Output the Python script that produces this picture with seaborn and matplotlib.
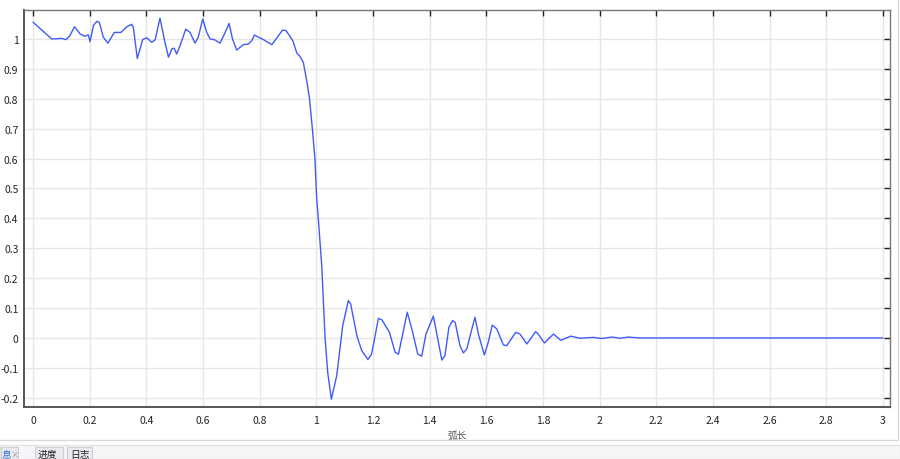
import matplotlib
matplotlib.use("Agg")
import matplotlib.pyplot as plt
import seaborn as sns
import pandas as pd
from matplotlib.lines import Line2D
from matplotlib.patches import Rectangle

# arc length and value
arc_length = [0.0, 0.066, 0.10, 0.116, 0.13, 0.146, 0.166, 0.183, 0.195, 0.201,
              0.213, 0.225, 0.234, 0.248, 0.264, 0.287, 0.31, 0.331, 0.348, 0.354,
              0.368, 0.387, 0.401, 0.419, 0.431, 0.448, 0.463, 0.478, 0.49, 0.498,
              0.507, 0.519, 0.539, 0.554, 0.572, 0.583, 0.599, 0.613, 0.625, 0.642,
              0.66, 0.678, 0.692, 0.704, 0.719, 0.742, 0.76, 0.772, 0.781, 0.813,
              0.843, 0.881, 0.893, 0.917, 0.931, 0.942, 0.954, 0.966, 0.976, 0.986,
              0.995, 1.001, 1.007, 1.019, 1.031, 1.040, 1.053, 1.072, 1.093, 1.113,
              1.121, 1.143, 1.16, 1.182, 1.195, 1.219, 1.231, 1.258, 1.278, 1.29,
              1.321, 1.337, 1.358, 1.372, 1.387, 1.413, 1.443, 1.454, 1.468, 1.481,
              1.49, 1.507, 1.519, 1.531, 1.549, 1.56, 1.572, 1.593, 1.607, 1.621,
              1.637, 1.66, 1.672, 1.704, 1.719, 1.743, 1.774, 1.783, 1.805, 1.837,
              1.863, 1.898, 1.931, 1.978, 2.007, 2.043, 2.072, 2.101, 2.14, 3.0]
value = [1.056, 1.0, 1.002, 0.998, 1.011, 1.041, 1.017, 1.009, 1.014, 0.991,
         1.045, 1.059, 1.056, 1.006, 0.986, 1.022, 1.022, 1.041, 1.049, 1.039,
         0.935, 0.998, 1.004, 0.989, 0.997, 1.07, 1.0, 0.939, 0.967, 0.969,
         0.95, 0.978, 1.033, 1.022, 0.986, 1.006, 1.067, 1.022, 1.0, 0.997,
         0.986, 1.022, 1.052, 1.0, 0.963, 0.981, 0.983, 0.994, 1.013, 0.998,
         0.981, 1.03, 1.028, 0.994, 0.953, 0.942, 0.922, 0.86, 0.799, 0.699,
         0.599, 0.47, 0.398, 0.242, -0.003, -0.115, -0.205, -0.126, 0.041, 0.125,
         0.114, 0.008, -0.042, -0.072, -0.054, 0.065, 0.061, 0.019, -0.048, -0.054,
         0.086, 0.030, -0.054, -0.061, 0.013, 0.073, -0.074, -0.059, 0.036, 0.058,
         0.052, -0.026, -0.05, -0.037, 0.03, 0.069, 0.013, -0.057, -0.014, 0.043,
         0.03, -0.023, -0.026, 0.019, 0.013, -0.02, 0.021, 0.013, -0.017, 0.013,
         -0.008, 0.006, -0.001, 0.002, -0.002, 0.003, -0.001, 0.003, 0.0, 0.0]

x_ticks = [0, 0.2, 0.4, 0.6, 0.8, 1, 1.2, 1.4, 1.6, 1.8, 2, 2.2, 2.4, 2.6, 2.8, 3]
y_ticks = [-0.2, -0.1, 0, 0.1, 0.2, 0.3, 0.4, 0.5, 0.6, 0.7, 0.8, 0.9, 1]

df = pd.DataFrame({"arc": arc_length, "val": value})

sns.set_theme(style="white")
plt.rcParams['font.family'] = ['Noto Sans CJK SC', 'DejaVu Sans']

fig = plt.figure(figsize=(9, 4.6), dpi=100)
ax = fig.add_axes([24 / 900, 1 - 408 / 460, (890 - 24) / 900, (408 - 11) / 460])

sns.lineplot(data=df, x="arc", y="val", ax=ax, color="#3f5cf6", linewidth=1.0,
             sort=False, estimator=None)

ax.set_xlim(-0.032, 3.025)
ax.set_ylim(-0.231, 1.097)
ax.set_xticks(x_ticks)
ax.set_xticklabels([f"{t:g}" for t in x_ticks])
ax.set_yticks(y_ticks)
ax.set_yticklabels([f"{t:g}" for t in y_ticks])
ax.grid(True, color="#e6e6e6", linewidth=1.0)
ax.tick_params(direction="in", length=4, width=1, colors="#222222",
               labelsize=7.5, top=True, right=True, pad=3)
ax.tick_params(axis="x", labelcolor="#222222", pad=6)
ax.tick_params(axis="y", labelcolor="#222222", pad=4)
for side in ["left", "bottom"]:
    ax.spines[side].set_color("#555555")
    ax.spines[side].set_linewidth(1.4)
for side in ["top", "right"]:
    ax.spines[side].set_color("#777777")
    ax.spines[side].set_linewidth(1.0)
ax.set_xlabel("弧长", fontsize=7, color="#555555", labelpad=3)
ax.set_ylabel("")

# window chrome below the plot
fig.add_artist(Line2D([0, 898 / 900], [1 - 441 / 460, 1 - 441 / 460],
                      transform=fig.transFigure, color="#d8d8d8", linewidth=1))
fig.add_artist(Line2D([898 / 900, 898 / 900], [1 - 441 / 460, 1],
                      transform=fig.transFigure, color="#d8d8d8", linewidth=1))
fig.add_artist(Rectangle((0, 0), 1, 1 - 446 / 460, transform=fig.transFigure,
                         facecolor="#f5f6f8", edgecolor="#e2e2e2", linewidth=0.8))
for x0, x1 in [(1, 18), (35, 63), (67, 92)]:
    fig.add_artist(Rectangle((x0 / 900, 0), (x1 - x0) / 900, 12 / 460,
                             transform=fig.transFigure, facecolor="#e9ebef",
                             edgecolor="#d0d0d0", linewidth=0.8))
fig.text(2 / 900, 5 / 460, "息", fontsize=7, color="#3a6fc9", va="center")
fig.text(11 / 900, 5 / 460, "×", fontsize=6, color="#999999", va="center")
fig.text(38 / 900, 5 / 460, "进度", fontsize=7, color="#222222", va="center")
fig.text(70 / 900, 5 / 460, "日志", fontsize=7, color="#222222", va="center")

fig.savefig("out.png", dpi=100)
